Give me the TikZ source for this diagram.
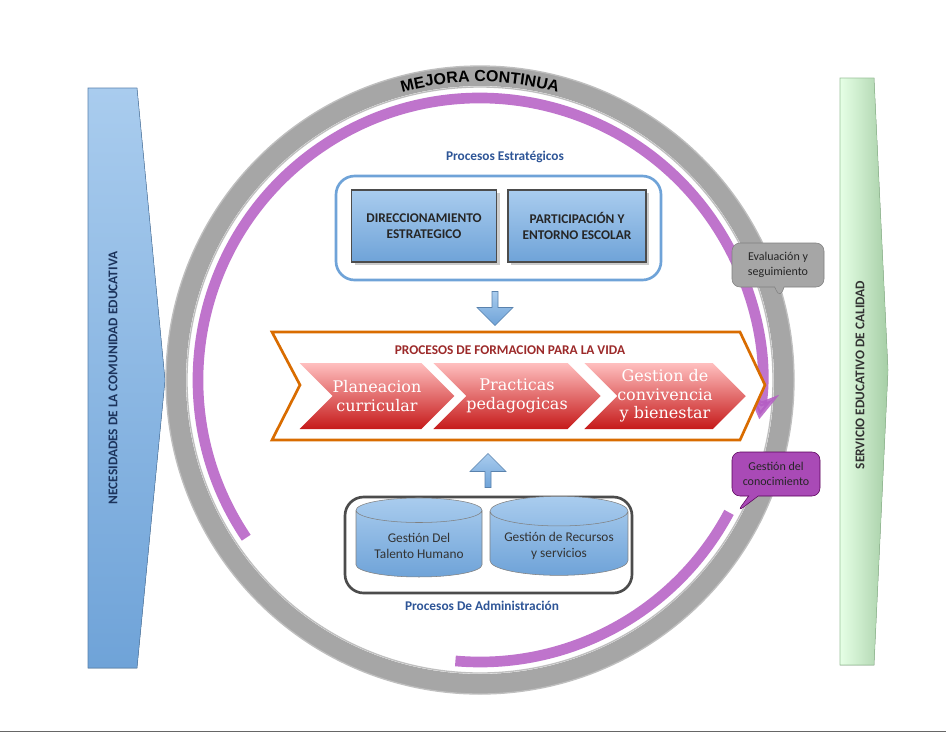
\documentclass[tikz,border=0pt]{standalone}
\usepackage{fontspec}
\setmainfont{Carlito}
\newfontfamily\slab{DejaVu Serif}
\newfontfamily\cond{Liberation Sans}
\usetikzlibrary{shapes.geometric,shapes.symbols,shapes.callouts,shapes.arrows,arrows.meta,decorations.text,shadows}
\definecolor{bluebox}{HTML}{6FA3D8}
\definecolor{bluelight}{HTML}{A9CCEE}
\definecolor{titleblue}{HTML}{2E5597}
\definecolor{purp}{HTML}{B45CC4}
\definecolor{darkred}{HTML}{9C2A2A}
\tikzset{
 sq/.style={draw=black!70,line width=1pt,top color=bluelight,bottom color=bluebox,minimum width=145pt*0.75,minimum height=72pt*0.75,align=center,font=\bfseries,text=black!85,drop shadow={opacity=.4}},
 cyl/.style={cylinder,shape border rotate=90,aspect=0.25,draw=black!50,top color=bluelight,bottom color=bluebox,minimum width=126*0.75pt,minimum height=79*0.75pt,align=center,font=\normalsize,text=black!80},
 chev/.style={signal,signal to=east,signal from=west,top color=red!25,bottom color=red!75!black!90,draw=none,minimum height=66*0.75pt,text=white,font=\slab\large,align=center,inner sep=0pt},
 ttl/.style={font=\bfseries,text=titleblue},
 purparc/.style={purp,line width=8pt,opacity=.85},
 blarrow/.style={single arrow,top color=bluelight,bottom color=bluebox,draw=bluebox!80!black,minimum height=34*0.75pt,minimum width=36*0.75pt,single arrow head extend=6pt,inner sep=1pt},
}
\begin{document}
\begin{tikzpicture}[x=0.75pt,y=-0.75pt]
\useasboundingbox (0,0) rectangle (946,733);
\fill[white] (0,0) rectangle (946,733);
\draw[black!60] (0,731) -- (946,731);
% side arrows
\fill[top color=bluelight,bottom color=bluebox,draw=bluebox!80!black] (88,88) -- (137,88) -- (165,380) -- (137,668) -- (88,668) -- cycle;
\node[rotate=90,font=\bfseries,text=titleblue!60!black] (lt) at (113,378) {NECESIDADES DE LA COMUNIDAD EDUCATIVA};
\fill[left color=green!10,right color=green!45!black!35,draw=green!40!black!40] (840,78) -- (874,78) -- (888,370) -- (874,665) -- (840,665) -- cycle;
\node[rotate=90,font=\bfseries,text=black!80] (rt) at (860,375) {SERVICIO EDUCATIVO DE CALIDAD};
% ring
\coordinate (c) at (480,380);
\draw[black!35,line width=15pt] (c) circle (304);
\draw[black!25,line width=1pt] (c) circle (314);
\draw[black!25,line width=1pt] (c) circle (293);
\path[decorate,decoration={text along path,text align=center,text={|\cond\bfseries\large|MEJORA CONTINUA}}]
  (c) ++(200:298) arc (200:340:298);
% purple arcs
\draw[purparc,-{Stealth[length=20pt,width=24pt]}] (c) ++(146:282) arc (146:368:282);
\draw[purparc] (c) ++(28:282) arc (28:95:282);
% strategic
\node[ttl] (pe) at (505,157) {Procesos Estratégicos};
\draw[bluebox,line width=2pt,rounded corners=14pt,fill=white] (336,176) rectangle (661,280);
\node[sq] (d1) at (424,226) {DIRECCIONAMIENTO\\ESTRATEGICO};
\node[sq,minimum width=138*0.75pt] (d2) at (577,226) {PARTICIPACIÓN Y\\ENTORNO ESCOLAR};
\node[blarrow,shape border rotate=270] (a1) at (495,307) {};
% formation
\draw[orange!85!black,line width=2pt,fill=white] (272,332) -- (740,332) -- (765,385) -- (740,440) -- (272,440) -- (300,385) -- cycle;
\node[font=\bfseries,text=darkred] (pf) at (510,350) {PROCESOS DE FORMACION PARA LA VIDA};
\node[chev,minimum width=148*0.75pt] (c1) at (377,396) {Planeacion\\curricular};
\node[chev,minimum width=148*0.75pt] (c2) at (517,396) {Practicas\\pedagogicas};
\node[chev,minimum width=160*0.75pt] (c3) at (665,396) {Gestion de\\convivencia\\y bienestar};
\node[blarrow,shape border rotate=90] (a2) at (488,472) {};
% admin
\draw[black!70,line width=2pt,rounded corners=14pt,fill=white] (345,497) rectangle (632,593);
\node[cyl] (g1) at (419,546) {Gestión Del\\Talento Humano};
\node[cyl,minimum width=138*0.75pt] (g2) at (559,546) {Gestión de Recursos\\y servicios};
\node[ttl] (pa) at (482,606) {Procesos De Administración};
% callouts
\node[rectangle callout,rounded corners=6pt,fill=black!35,draw=black!50,callout absolute pointer={(780,298)},minimum width=92*0.75pt,minimum height=44*0.75pt,align=center,font=\small,text=black!85,inner sep=1pt] (ev) at (778,265) {Evaluación y\\seguimiento};
\node[rectangle callout,rounded corners=6pt,fill=purp!80!violet,draw=violet!70!black,callout absolute pointer={(737,512)},minimum width=88*0.75pt,minimum height=44*0.75pt,align=center,font=\small,text=black!85,inner sep=1pt] (gc) at (776,474) {Gestión del\\conocimiento};
\end{tikzpicture}
\end{document}
